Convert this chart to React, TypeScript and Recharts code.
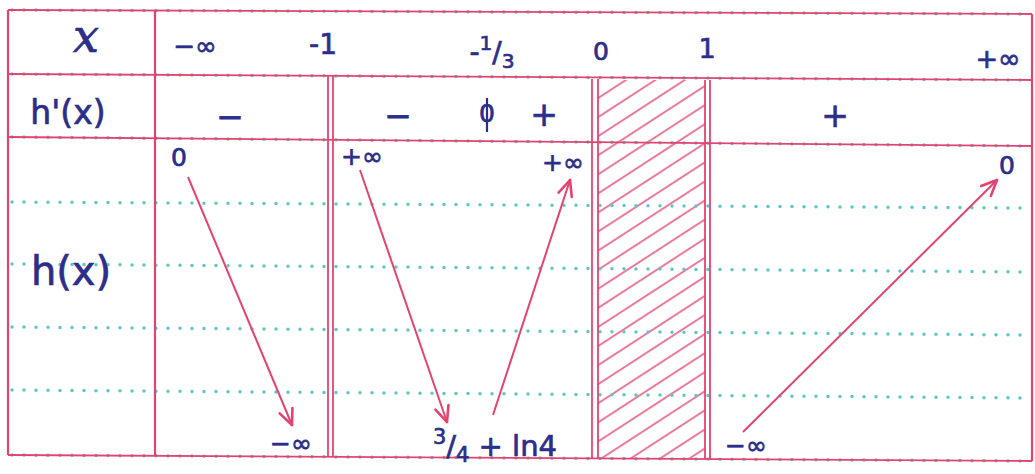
import React from 'react';
import { ScatterChart, Scatter, XAxis, YAxis, ReferenceLine, ReferenceArea } from 'recharts';

const W = 1035;
const H = 474;

// variation table of h
const rowLabels = ['x', "h'(x)", 'h(x)'];
const xValues = ['−∞', '-1', '-1/3', '0', '1', '+∞'];
const derivSigns = ['−', '−', '0', '+', '+'];
const hValues = ['0', '−∞', '+∞', '3/4 + ln4', '+∞', '−∞', '0'];

const PINK = '#e4436f';
const INK = '#2b2e8a';
const CYAN = '#5ec6c9';
const FONT = '"DejaVu Sans", sans-serif';

// layout of the hand-drawn table (picture units)
const rowLabelPos = [[86, 36], [68, 112], [71, 271]];
const rowLabelSize = [46, 33, 40];
const xValuePos = [[195, 46], [323, 44], [492, 52], [601, 51], [707, 48], [998, 58]];
const xValueSize = [26, 28, 28, 25, 27, 27];
const derivPos = [[230, 116], [398, 115], [487, 113], [544, 114], [835, 115]];
const hValuePos = [[179, 157], [291, 443], [362, 156], [495, 446], [563, 162], [746, 445], [1007, 165]];
const arrowPos = [
  [[188, 177], [292, 425]],
  [[360, 170], [447, 422]],
  [[493, 415], [570, 180]],
  [[743, 432], [997, 180]],
];
const hLines = [[10, 14], [74, 80], [137, 146], [455, 461]];
const dotLines = [[202, 208], [264, 272], [327, 335], [390, 398]];
const singleV = [[8, 10, 455], [155, 10, 456], [1032, 14, 461]];
const doubleV = [[328, 75, 456], [333, 75, 456], [592, 79, 458], [598, 79, 458], [705, 80, 459], [710, 80, 459]];
const hatch = { x1: 598, x2: 705, y1: 80, y2: 458 };

const L = 8;
const R = 1032;

type Lbl = { x: number; y: number; text: string; size: number; italic?: boolean; bar?: boolean };

const labels: Lbl[] = [
  ...rowLabels.map((t, i) => ({ x: rowLabelPos[i][0], y: rowLabelPos[i][1], text: t, size: rowLabelSize[i], italic: i === 0 })),
  ...xValues.map((t, i) => ({ x: xValuePos[i][0], y: xValuePos[i][1], text: t, size: xValueSize[i] })),
  ...derivSigns.map((t, i) => ({ x: derivPos[i][0], y: derivPos[i][1], text: t, size: t === '0' ? 25 : 33, bar: t === '0' })),
  ...hValues.map((t, i) => ({ x: hValuePos[i][0], y: hValuePos[i][1], text: t, size: t.includes('ln') ? 29 : 25 })),
];

function MathLabel(props: any) {
  const { cx, cy, payload } = props;
  const { text, size, italic, bar } = payload as Lbl;
  const common = {
    x: cx, y: cy, textAnchor: 'middle' as const, dominantBaseline: 'central' as const,
    fill: INK, stroke: INK, strokeWidth: 0.7, fontSize: size,
    fontFamily: italic ? '"DejaVu Serif", serif' : FONT, fontStyle: italic ? 'italic' : 'normal',
  };
  const m = text.match(/^(.*?)(\d)\/(\d)(.*)$/);
  if (!m) {
    return (
      <g>
        <text {...common}>{text}</text>
        {bar && <line x1={cx} x2={cx} y1={cy - 15} y2={cy + 19} stroke={INK} strokeWidth={2.2} />}
      </g>
    );
  }
  const [, pre, num, den, post] = m;
  const d = size * 0.32;
  return (
    <text {...common}>
      {pre}
      <tspan fontSize={size * 0.72} dy={-d}>{num}</tspan>
      <tspan dy={d}>/</tspan>
      <tspan fontSize={size * 0.72} dy={d}>{den}</tspan>
      <tspan dy={-d}>{post}</tspan>
    </text>
  );
}

function headSegments(from: number[], to: number[], len = 17, spread = 0.42) {
  const a = Math.atan2(to[1] - from[1], to[0] - from[0]);
  return [-1, 1].map((s) => [
    { x: to[0], y: to[1] },
    { x: to[0] - len * Math.cos(a + s * spread), y: to[1] - len * Math.sin(a + s * spread) },
  ]);
}

export default function App() {
  return (
    <div style={{ position: 'absolute', left: 0, top: 0, width: W, height: H, background: '#fff' }}>
      <ScatterChart width={W} height={H} margin={{ top: 0, right: 0, bottom: 0, left: 0 }}>
        <defs>
          <pattern id="hatch" patternUnits="userSpaceOnUse" width="16" height="16" patternTransform="rotate(57)">
            <line x1="8" y1="0" x2="8" y2="16" stroke={PINK} strokeWidth="1.4" />
          </pattern>
        </defs>
        <XAxis type="number" dataKey="x" domain={[0, W]} allowDataOverflow hide />
        <YAxis type="number" dataKey="y" domain={[0, H]} allowDataOverflow reversed hide />

        <ReferenceArea {...hatch} fill="url(#hatch)" fillOpacity={1} stroke="none" ifOverflow="visible" />

        {[...dotLines, ...hLines].map(([y1, y2], i) => (
          <ReferenceLine key={`d${i}`} segment={[{ x: L + 4, y: y1 }, { x: R - 4, y: y2 }]}
            stroke={CYAN} strokeWidth={3.5} strokeDasharray="0 12" strokeLinecap="round" ifOverflow="visible" />
        ))}
        {hLines.map(([y1, y2], i) => (
          <ReferenceLine key={`h${i}`} segment={[{ x: L, y: y1 }, { x: R, y: y2 }]}
            stroke={PINK} strokeWidth={1.8} ifOverflow="visible" />
        ))}
        {[...singleV, ...doubleV].map(([x, y1, y2], i) => (
          <ReferenceLine key={`v${i}`} segment={[{ x, y: y1 }, { x, y: y2 }]}
            stroke={PINK} strokeWidth={i < singleV.length ? 2.2 : 1.8} ifOverflow="visible" />
        ))}

        {arrowPos.map(([from, to], i) => (
          <ReferenceLine key={`a${i}`} segment={[{ x: from[0], y: from[1] }, { x: to[0], y: to[1] }]}
            stroke={PINK} strokeWidth={2} ifOverflow="visible" />
        ))}
        {arrowPos.flatMap(([from, to], i) =>
          headSegments(from, to).map((seg, j) => (
            <ReferenceLine key={`ah${i}-${j}`} segment={seg} stroke={PINK} strokeWidth={2.6}
              strokeLinecap="round" ifOverflow="visible" />
          ))
        )}

        <Scatter data={labels} shape={MathLabel} isAnimationActive={false} />
      </ScatterChart>
    </div>
  );
}
